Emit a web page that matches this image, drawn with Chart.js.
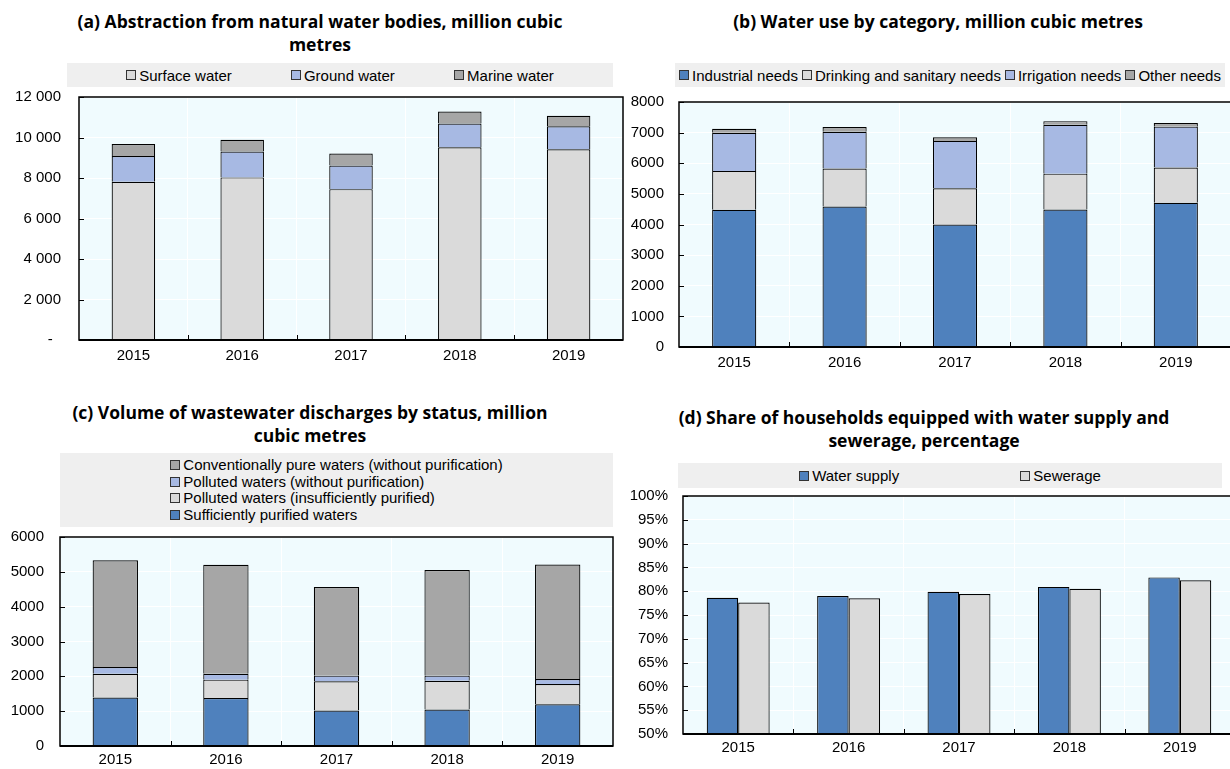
<!DOCTYPE html>
<html>
<head>
<meta charset="utf-8">
<script src="https://cdn.jsdelivr.net/npm/chart.js@4.4.0/dist/chart.umd.min.js"></script>
<style>
  body {
    margin: 0;
    width: 1230px;
    height: 769px;
    overflow: hidden;
    position: relative;
    background: #fff;
    font-family: "Liberation Sans", Arial, sans-serif;
  }
  .title {
    position: absolute;
    font-family: "Open Sans", sans-serif;
    font-weight: 700;
    font-size: 17.5px;
    line-height: 23px;
    text-align: center;
    color: #000;
  }
  .legend {
    position: absolute;
    background: #efefef;
    display: flex;
    justify-content: space-evenly;
    align-items: center;
    font-size: 15px;
    color: #000;
  }
  .legend.column {
    justify-content: center;
  }
  .legend .list {
    display: flex;
    flex-direction: column;
    align-items: flex-start;
    line-height: 16.5px;
  }
  .legend .item {
    display: flex;
    align-items: center;
    white-space: nowrap;
  }
  .legend .box {
    width: 8px;
    height: 8px;
    border: 1px solid #333;
    margin-right: 3px;
  }
  .plot {
    position: absolute;
  }
</style>
</head>
<body>

<div class="title" style="left:0; top:10px; width:640px;">(a) Abstraction from natural water bodies, million cubic<br>metres</div>
<div class="legend" id="legendA" style="left:67px; top:63px; width:546px; height:24px;"></div>
<div class="plot" style="left:0; top:67px; width:626px; height:303px;"><canvas id="chartA"></canvas></div>

<div class="title" style="left:640px; top:10px; width:596px;">(b) Water use by category, million cubic metres</div>
<div class="legend" id="legendB" style="left:675px; top:63px; width:550px; height:24px;"></div>
<div class="plot" style="left:626px; top:72px; width:614px; height:305px;"><canvas id="chartB"></canvas></div>

<div class="title" style="left:0; top:401px; width:620px;">(c) Volume of wastewater discharges by status, million<br>cubic metres</div>
<div class="legend column" id="legendC" style="left:60px; top:453px; width:553px; height:74px;"></div>
<div class="plot" style="left:0; top:507px; width:620px; height:269px;"><canvas id="chartC"></canvas></div>

<div class="title" style="left:626px; top:406px; width:596px;">(d) Share of households equipped with water supply and<br>sewerage, percentage</div>
<div class="legend" id="legendD" style="left:678px; top:463px; width:544px; height:25px;"></div>
<div class="plot" style="left:626px; top:466px; width:614px; height:303px;"><canvas id="chartD"></canvas></div>

<script>
const years = ['2015', '2016', '2017', '2018', '2019'];

// (a) abstraction, million m3
const surfaceWater = [7810, 8030, 7450, 9520, 9420];
const groundWater = [1280, 1280, 1170, 1170, 1130];
const marineWater = [590, 575, 590, 590, 525];

// (b) water use by category, million m3
const industrialNeeds = [4480, 4590, 4000, 4490, 4710];
const drinkingNeeds = [1270, 1235, 1180, 1170, 1150];
const irrigationNeeds = [1245, 1200, 1550, 1595, 1335];
const otherNeeds = [130, 155, 120, 120, 120];

// (c) wastewater discharges, million m3
const sufficientlyPurified = [1390, 1380, 1020, 1050, 1200];
const insufficientlyPurified = [685, 525, 840, 825, 580];
const pollutedNoPurification = [190, 170, 160, 145, 145];
const conventionallyPure = [3065, 3125, 2545, 3030, 3285];

// (d) households equipped, %
const waterSupply = [78.6, 79.0, 79.9, 80.9, 82.9];
const sewerage = [77.6, 78.5, 79.4, 80.5, 82.3];

const BLUE = '#4F81BD';
const LIGHT_BLUE = '#A7B9E3';
const LIGHT_GREY = '#DADADA';
const DARK_GREY = '#A6A6A6';
const PLOT_BG = '#F0FBFE';
const TICK_FONT = { family: '"Liberation Sans", Arial, sans-serif', size: 15 };

// space kept above the plot so the top tick label never pushes it down
const PAD_TOP = 30;

// fills the plot background, then frames it with the short inward ticks
const plotFrame = {
  id: 'plotFrame',
  beforeDraw(chart) {
    const { ctx, chartArea: a } = chart;
    ctx.save();
    ctx.fillStyle = PLOT_BG;
    ctx.fillRect(a.left, a.top, a.right - a.left, a.bottom - a.top);
    ctx.restore();
  },
  afterDraw(chart) {
    const { ctx, chartArea: a, scales } = chart;
    const x = scales.x, y = scales.y;
    ctx.save();
    ctx.strokeStyle = '#000';
    ctx.lineWidth = 1.5;
    ctx.strokeRect(a.left, a.top, a.right - a.left, a.bottom - a.top);

    ctx.lineWidth = 1;
    ctx.beginPath();
    for (let i = 1; i < x.ticks.length; i++) {
      const px = Math.round((x.getPixelForTick(i - 1) + x.getPixelForTick(i)) / 2) + 0.5;
      ctx.moveTo(px, a.bottom);
      ctx.lineTo(px, a.bottom - 5);
    }
    y.ticks.forEach((t, i) => {
      const py = Math.round(y.getPixelForTick(i)) + 0.5;
      ctx.moveTo(a.left, py);
      ctx.lineTo(a.left + 5, py);
    });
    ctx.stroke();

    ctx.lineWidth = 2;
    ctx.beginPath();
    ctx.moveTo(a.left, a.bottom);
    ctx.lineTo(a.right, a.bottom);
    ctx.stroke();
    ctx.restore();
  }
};

function series(label, data, color) {
  return { label, data, backgroundColor: color, borderColor: '#000', borderWidth: 1.2 };
}

function withSpaces(v) {
  return v.toString().replace(/\B(?=(\d{3})+(?!\d))/g, ' ');
}

function makeChart(id, cfg) {
  const ctx = document.getElementById(id).getContext('2d');
  return new Chart(ctx, {
    type: 'bar',
    data: { labels: years, datasets: cfg.datasets },
    options: {
      responsive: true,
      maintainAspectRatio: false,
      animation: false,
      layout: { padding: { top: PAD_TOP, right: cfg.padRight, left: 0, bottom: 0 } },
      datasets: { bar: cfg.bar },
      plugins: { legend: { display: false }, tooltip: { enabled: false } },
      scales: {
        x: {
          stacked: cfg.stacked,
          grid: { color: '#ffffff', drawTicks: false, offset: true },
          border: { display: false },
          ticks: { font: TICK_FONT, color: '#000', padding: cfg.xPad, maxRotation: 0 },
          afterFit: s => { s.height = cfg.xHeight; }
        },
        y: {
          stacked: cfg.stacked,
          min: cfg.min,
          max: cfg.max,
          grid: { color: '#ffffff', drawTicks: false },
          border: { display: false },
          ticks: { stepSize: cfg.step, font: TICK_FONT, color: '#000', padding: cfg.yPad, callback: cfg.format },
          afterFit: s => { s.width = cfg.yWidth; }
        }
      }
    },
    plugins: [plotFrame]
  });
}

function buildLegend(elId, chart, order, column) {
  const host = document.getElementById(elId);
  const target = column ? document.createElement('div') : host;
  if (column) {
    target.className = 'list';
    host.appendChild(target);
  }
  order.forEach(i => {
    const ds = chart.data.datasets[i];
    const item = document.createElement('div');
    item.className = 'item';
    const box = document.createElement('span');
    box.className = 'box';
    box.style.background = ds.backgroundColor;
    item.appendChild(box);
    item.appendChild(document.createTextNode(ds.label));
    target.appendChild(item);
  });
}

const stackedBar = { categoryPercentage: 1, barPercentage: 0.4 };

const chartA = makeChart('chartA', {
  datasets: [
    series('Surface water', surfaceWater, LIGHT_GREY),
    series('Ground water', groundWater, LIGHT_BLUE),
    series('Marine water', marineWater, DARK_GREY)
  ],
  stacked: true, bar: stackedBar,
  min: 0, max: 12000, step: 2000,
  format: v => v === 0 ? '-  ' : withSpaces(v),
  padRight: 3, yWidth: 79, xHeight: 30, yPad: 18, xPad: 7
});

const chartB = makeChart('chartB', {
  datasets: [
    series('Industrial needs', industrialNeeds, BLUE),
    series('Drinking and sanitary needs', drinkingNeeds, LIGHT_GREY),
    series('Irrigation needs', irrigationNeeds, LIGHT_BLUE),
    series('Other needs', otherNeeds, DARK_GREY)
  ],
  stacked: true, bar: stackedBar,
  min: 0, max: 8000, step: 1000,
  format: v => v,
  padRight: 9, yWidth: 53, xHeight: 30, yPad: 15, xPad: 7
});

const chartC = makeChart('chartC', {
  datasets: [
    series('Sufficiently purified waters', sufficientlyPurified, BLUE),
    series('Polluted waters (insufficiently purified)', insufficientlyPurified, LIGHT_GREY),
    series('Polluted waters (without purification)', pollutedNoPurification, LIGHT_BLUE),
    series('Conventionally pure waters (without purification)', conventionallyPure, DARK_GREY)
  ],
  stacked: true, bar: { categoryPercentage: 1, barPercentage: 0.41 },
  min: 0, max: 6000, step: 1000,
  format: v => v,
  padRight: 7, yWidth: 60, xHeight: 30, yPad: 16, xPad: 5
});

const chartD = makeChart('chartD', {
  datasets: [
    series('Water supply', waterSupply, BLUE),
    series('Sewerage', sewerage, LIGHT_GREY)
  ],
  stacked: false, bar: { categoryPercentage: 0.57, barPercentage: 1 },
  min: 50, max: 100, step: 5,
  format: v => v + '%',
  padRight: 5, yWidth: 57, xHeight: 35, yPad: 15, xPad: 5
});

buildLegend('legendA', chartA, [0, 1, 2], false);
buildLegend('legendB', chartB, [0, 1, 2, 3], false);
buildLegend('legendC', chartC, [3, 2, 1, 0], true);
buildLegend('legendD', chartD, [0, 1], false);
</script>
</body>
</html>
